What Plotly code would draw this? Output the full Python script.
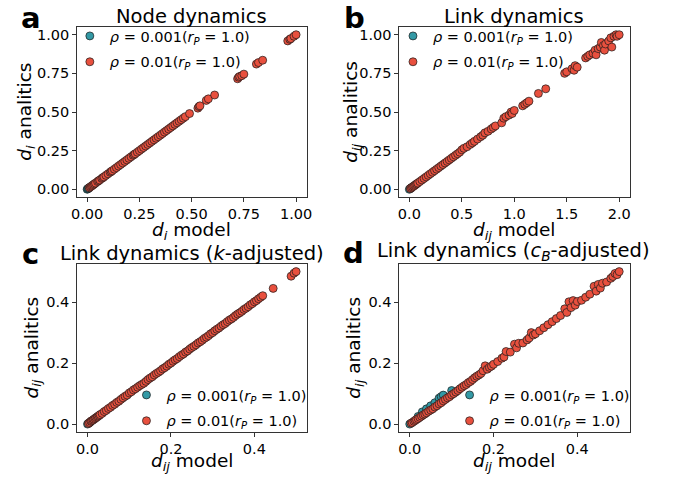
import plotly.graph_objects as go

# ---------------- data ----------------
# Panel a: node dynamics (model vs analytic)
a_model_low = [0.0, 0.003, 0.006, 0.01]
a_anal_low = [0.0, 0.003, 0.006, 0.01]
a_model_high = [0.01, 0.015, 0.02, 0.025, 0.03, 0.035, 0.04, 0.05, 0.055, 0.06,
                0.07, 0.075, 0.08, 0.09, 0.10, 0.11, 0.115, 0.12, 0.13, 0.14,
                0.15, 0.16, 0.17, 0.18, 0.19, 0.20, 0.21, 0.22, 0.225, 0.23,
                0.24, 0.25, 0.26, 0.27, 0.28, 0.29, 0.30, 0.31, 0.32, 0.33,
                0.34, 0.35, 0.36, 0.37, 0.38, 0.39, 0.40, 0.41, 0.42, 0.43,
                0.44, 0.45, 0.46, 0.47, 0.49, 0.53, 0.535, 0.54, 0.57, 0.58,
                0.61, 0.72, 0.725, 0.73, 0.74, 0.75, 0.81, 0.82, 0.84, 0.96,
                0.97, 0.975, 0.99, 1.00]
a_anal_high = [0.01, 0.015, 0.02, 0.025, 0.03, 0.035, 0.04, 0.05, 0.055, 0.06,
               0.07, 0.075, 0.08, 0.09, 0.10, 0.11, 0.115, 0.12, 0.13, 0.14,
               0.15, 0.16, 0.17, 0.18, 0.19, 0.20, 0.21, 0.22, 0.225, 0.23,
               0.24, 0.25, 0.26, 0.27, 0.28, 0.29, 0.30, 0.31, 0.32, 0.33,
               0.34, 0.35, 0.36, 0.37, 0.38, 0.39, 0.40, 0.41, 0.42, 0.43,
               0.44, 0.45, 0.46, 0.47, 0.49, 0.525, 0.535, 0.54, 0.575, 0.585,
               0.61, 0.715, 0.725, 0.73, 0.735, 0.745, 0.81, 0.82, 0.835, 0.96,
               0.97, 0.975, 0.99, 1.00]

# Panel b: link dynamics
b_model_low = [0.0, 0.01, 0.02]
b_anal_low = [0.0, 0.005, 0.01]
b_model_high = [0.01, 0.02, 0.03, 0.04, 0.05, 0.06, 0.07, 0.08, 0.10, 0.12,
                0.14, 0.16, 0.18, 0.20, 0.22, 0.24, 0.26, 0.28, 0.30, 0.32,
                0.34, 0.36, 0.38, 0.40, 0.42, 0.44, 0.46, 0.48, 0.50, 0.52,
                0.55, 0.58, 0.60, 0.62, 0.65, 0.68, 0.70, 0.72, 0.75, 0.78,
                0.80, 0.82, 0.88, 0.90, 0.92, 0.95, 0.97, 0.98, 1.00, 1.08,
                1.10, 1.12, 1.14, 1.23, 1.30, 1.48, 1.50, 1.55, 1.57, 1.58,
                1.60, 1.68, 1.70, 1.72, 1.75, 1.77, 1.78, 1.80, 1.82, 1.83,
                1.85, 1.86, 1.87, 1.90, 1.92, 1.93, 1.95, 1.97, 1.98, 2.00]
b_anal_high = [0.005, 0.01, 0.015, 0.02, 0.025, 0.03, 0.035, 0.04, 0.05, 0.06,
               0.07, 0.08, 0.09, 0.10, 0.11, 0.12, 0.13, 0.14, 0.15, 0.16,
               0.17, 0.18, 0.19, 0.20, 0.21, 0.22, 0.23, 0.24, 0.255, 0.265,
               0.275, 0.29, 0.30, 0.31, 0.325, 0.34, 0.35, 0.365, 0.375, 0.39,
               0.40, 0.41, 0.43, 0.46, 0.47, 0.48, 0.50, 0.49, 0.51, 0.54,
               0.55, 0.56, 0.57, 0.62, 0.65, 0.75, 0.76, 0.78, 0.77, 0.80,
               0.79, 0.85, 0.86, 0.87, 0.88, 0.90, 0.87, 0.91, 0.92, 0.95,
               0.93, 0.90, 0.94, 0.96, 0.98, 0.92, 0.99, 1.00, 0.99, 1.00]

# Panel c: link dynamics, k-adjusted
c_model_low = [0.0, 0.003, 0.006]
c_anal_low = [0.0, 0.003, 0.006]
c_model_high = [0.002, 0.005, 0.008, 0.010, 0.013, 0.015, 0.018, 0.020, 0.023, 0.025,
                0.028, 0.030, 0.035, 0.040, 0.045, 0.050, 0.055, 0.060, 0.065, 0.070,
                0.075, 0.080, 0.085, 0.090, 0.095, 0.100, 0.105, 0.110, 0.115, 0.120,
                0.125, 0.130, 0.135, 0.140, 0.145, 0.150, 0.155, 0.160, 0.165, 0.170,
                0.175, 0.180, 0.185, 0.190, 0.195, 0.200, 0.205, 0.210, 0.215, 0.220,
                0.225, 0.230, 0.235, 0.240, 0.245, 0.250, 0.255, 0.260, 0.265, 0.270,
                0.275, 0.280, 0.285, 0.290, 0.295, 0.300, 0.305, 0.310, 0.315, 0.320,
                0.325, 0.330, 0.335, 0.340, 0.345, 0.350, 0.355, 0.360, 0.365, 0.370,
                0.375, 0.380, 0.385, 0.390, 0.395, 0.400, 0.405, 0.410, 0.415, 0.420,
                0.445, 0.488, 0.495, 0.500]
c_anal_high = [0.002, 0.005, 0.009, 0.011, 0.013, 0.016, 0.018, 0.021, 0.023, 0.026,
               0.028, 0.031, 0.035, 0.041, 0.045, 0.051, 0.055, 0.061, 0.065, 0.071,
               0.075, 0.081, 0.086, 0.091, 0.095, 0.102, 0.106, 0.112, 0.116, 0.121,
               0.126, 0.130, 0.134, 0.140, 0.146, 0.151, 0.155, 0.161, 0.166, 0.170,
               0.175, 0.181, 0.185, 0.190, 0.196, 0.200, 0.206, 0.211, 0.215, 0.221,
               0.226, 0.230, 0.236, 0.240, 0.246, 0.251, 0.255, 0.260, 0.266, 0.270,
               0.275, 0.281, 0.285, 0.290, 0.296, 0.300, 0.306, 0.311, 0.315, 0.321,
               0.326, 0.330, 0.336, 0.341, 0.345, 0.350, 0.356, 0.361, 0.365, 0.370,
               0.376, 0.380, 0.385, 0.391, 0.395, 0.401, 0.405, 0.411, 0.416, 0.421,
               0.445, 0.485, 0.495, 0.500]

# Panel d: link dynamics, c_B-adjusted
d_model_low = [0.0, 0.02, 0.03, 0.04, 0.05, 0.06, 0.07, 0.075, 0.08, 0.10]
d_anal_low = [0.0, 0.025, 0.04, 0.05, 0.06, 0.07, 0.085, 0.09, 0.095, 0.11]
d_model_high = [0.003, 0.006, 0.010, 0.013, 0.016, 0.020, 0.024, 0.028, 0.032, 0.036,
                0.040, 0.045, 0.050, 0.055, 0.060, 0.065, 0.070, 0.075, 0.080, 0.085,
                0.090, 0.095, 0.100, 0.105, 0.110, 0.115, 0.120, 0.125, 0.130, 0.135,
                0.140, 0.145, 0.150, 0.155, 0.160, 0.165, 0.170, 0.175, 0.180, 0.185,
                0.190, 0.195, 0.200, 0.210, 0.220, 0.225, 0.230, 0.240, 0.250, 0.255,
                0.260, 0.270, 0.280, 0.285, 0.290, 0.295, 0.300, 0.310, 0.320, 0.330,
                0.340, 0.350, 0.360, 0.370, 0.375, 0.380, 0.385, 0.390, 0.395, 0.400,
                0.410, 0.420, 0.430, 0.440, 0.445, 0.450, 0.455, 0.460, 0.470, 0.480,
                0.485, 0.490, 0.495, 0.500]
d_anal_high = [0.003, 0.005, 0.009, 0.012, 0.015, 0.018, 0.022, 0.026, 0.030, 0.033,
               0.037, 0.042, 0.046, 0.050, 0.056, 0.060, 0.066, 0.070, 0.076, 0.081,
               0.086, 0.090, 0.096, 0.100, 0.105, 0.110, 0.116, 0.121, 0.126, 0.130,
               0.136, 0.140, 0.146, 0.152, 0.157, 0.161, 0.166, 0.175, 0.191, 0.180,
               0.186, 0.190, 0.196, 0.205, 0.216, 0.220, 0.238, 0.236, 0.262, 0.250,
               0.265, 0.266, 0.276, 0.282, 0.300, 0.292, 0.296, 0.306, 0.316, 0.326,
               0.336, 0.346, 0.356, 0.378, 0.366, 0.401, 0.382, 0.405, 0.390, 0.402,
               0.406, 0.416, 0.426, 0.452, 0.436, 0.458, 0.446, 0.462, 0.466, 0.478,
               0.484, 0.494, 0.490, 0.500]

label_low = "<i>ρ</i> = 0.001(<i>r<sub>P</sub></i> = 1.0)"
label_high = "<i>ρ</i> = 0.01(<i>r<sub>P</sub></i> = 1.0)"

teal = "#3399A5"
red = "#E8503E"
FONT = "DejaVu Sans"

W, H = 673, 478


def px_x(p):
    return p / W


def px_y(p):
    return (H - p) / H


panels = [
    (a_model_low, a_anal_low, a_model_high, a_anal_high, "", "legend"),
    (b_model_low, b_anal_low, b_model_high, b_anal_high, "2", "legend2"),
    (c_model_low, c_anal_low, c_model_high, c_anal_high, "3", "legend3"),
    (d_model_low, d_anal_low, d_model_high, d_anal_high, "4", "legend4"),
]

fig = go.Figure()
for xl, yl, xh, yh, sfx, leg in panels:
    for xs, ys, col, lab, grp in [(xl, yl, teal, label_low, "low"),
                                   (xh, yh, red, label_high, "high")]:
        fig.add_trace(go.Scatter(
            x=xs, y=ys, mode="markers", name=lab,
            xaxis="x" + sfx, yaxis="y" + sfx,
            legend=leg, legendgroup=grp + sfx,
            marker=dict(size=8, color=col,
                        line=dict(color="#1a1a1a", width=0.7)),
        ))

tick_font = dict(family=FONT, size=14.5, color="black")


def axis(domain, rng, vals, texts, anchor):
    return dict(domain=domain, range=rng, tickvals=vals, ticktext=texts,
                anchor=anchor, showgrid=False, zeroline=False,
                showline=True, linecolor="#333", linewidth=1, mirror=True,
                ticks="outside", ticklen=3.5, tickwidth=1, tickcolor="#333",
                tickfont=tick_font)


top_dom = [px_y(197), px_y(27)]
bot_dom = [px_y(432), px_y(264)]
left_dom = [px_x(72), px_x(306)]
right_dom = [px_x(400), px_x(635)]

q = [0, 0.25, 0.5, 0.75, 1.0]
qt = ["0.00", "0.25", "0.50", "0.75", "1.00"]
h = [0, 0.5, 1.0, 1.5, 2.0]
ht = ["0.0", "0.5", "1.0", "1.5", "2.0"]
f = [0, 0.2, 0.4]
ft = ["0.0", "0.2", "0.4"]

legend_common = dict(bgcolor="rgba(0,0,0,0)", borderwidth=0,
                     font=dict(family=FONT, size=14.5, color="black"),
                     traceorder="grouped", tracegroupgap=4,
                     itemsizing="trace")

fig.update_layout(
    width=W, height=H,
    margin=dict(l=0, r=0, t=0, b=0),
    paper_bgcolor="white", plot_bgcolor="white",
    font=dict(family=FONT, color="black"),
    xaxis=axis(left_dom, [-0.05, 1.05], q, qt, "y"),
    yaxis=axis(top_dom, [-0.05, 1.05], q, qt, "x"),
    xaxis2=axis(right_dom, [-0.1, 2.1], h, ht, "y2"),
    yaxis2=axis(top_dom, [-0.05, 1.05], q, qt, "x2"),
    xaxis3=axis(left_dom, [-0.026, 0.525], f, ft, "y3"),
    yaxis3=axis(bot_dom, [-0.026, 0.525], f, ft, "x3"),
    xaxis4=axis(right_dom, [-0.026, 0.525], f, ft, "y4"),
    yaxis4=axis(bot_dom, [-0.026, 0.525], f, ft, "x4"),
    legend=dict(x=px_x(65), y=px_y(20), xanchor="left", yanchor="top",
                **legend_common),
    legend2=dict(x=px_x(394), y=px_y(20), xanchor="left", yanchor="top",
                 **legend_common),
    legend3=dict(x=px_x(311), y=px_y(437), xanchor="right", yanchor="bottom",
                 **legend_common),
    legend4=dict(x=px_x(640), y=px_y(437), xanchor="right", yanchor="bottom",
                 **legend_common),
)

ann = []
# panel titles
titles = [("Node dynamics", 189, 17), ("Link dynamics", 517, 17),
          ("Link dynamics (<i>k</i>-adjusted)", 189, 253),
          ("Link dynamics (<i>c<sub>B</sub></i>-adjusted)", 517, 252)]
for t, x, y in titles:
    ann.append(dict(text=t, x=px_x(x), y=px_y(y), xref="paper", yref="paper",
                    xanchor="center", yanchor="middle", showarrow=False,
                    font=dict(family=FONT, size=19.5, color="black")))
# panel letters
for t, x, y in [("a", 25, 18), ("b", 355, 18), ("c", 25, 254), ("d", 354, 253)]:
    ann.append(dict(text="<b>" + t + "</b>", x=px_x(x), y=px_y(y),
                    xref="paper", yref="paper", xanchor="center",
                    yanchor="middle", showarrow=False,
                    font=dict(family=FONT, size=29, color="black")))
# axis titles
xt = [("<i>d<sub>i</sub></i> model", 189, 231),
      ("<i>d<sub>ij</sub></i> model", 517, 231),
      ("<i>d<sub>ij</sub></i> model", 189, 462),
      ("<i>d<sub>ij</sub></i> model", 517, 462)]
for t, x, y in xt:
    ann.append(dict(text=t, x=px_x(x), y=px_y(y), xref="paper", yref="paper",
                    xanchor="center", yanchor="middle", showarrow=False,
                    font=dict(family=FONT, size=18.5, color="black")))
yt = [("<i>d<sub>i</sub></i> analitics", 20, 112),
      ("<i>d<sub>ij</sub></i> analitics", 352, 112),
      ("<i>d<sub>ij</sub></i> analitics", 27, 348),
      ("<i>d<sub>ij</sub></i> analitics", 355, 348)]
for t, x, y in yt:
    ann.append(dict(text=t, x=px_x(x), y=px_y(y), xref="paper", yref="paper",
                    xanchor="center", yanchor="middle", showarrow=False,
                    textangle=-90,
                    font=dict(family=FONT, size=18.5, color="black")))
fig.update_layout(annotations=ann)

fig.write_html("out.html")
